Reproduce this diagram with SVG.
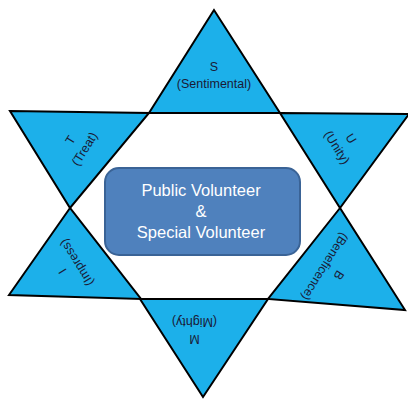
<svg xmlns="http://www.w3.org/2000/svg" width="408" height="399" viewBox="0 0 408 399">
<style>
.tri{fill:#1cb0ea;stroke:#000;stroke-width:2;stroke-linejoin:miter}
.lbl{font-family:"Liberation Sans",Arial,sans-serif;font-size:12.5px;fill:#1a1a36;text-anchor:middle;dominant-baseline:central}
.box{fill:#4f81bd;stroke:#3a6396;stroke-width:2}
.ctr{font-family:"Liberation Sans",Arial,sans-serif;font-size:16.5px;fill:#fff;text-anchor:middle;dominant-baseline:central}
</style>
<rect width="408" height="399" fill="#fff"/>
<g id="connectors"></g>
<g id="S">
<polygon class="tri" points="214,10 149,113 280,113"/>
<g transform="translate(214,75)"><text class="lbl" y="-8">S</text><text class="lbl" y="8.5">(Sentimental)</text></g>
</g>
<g id="T">
<polygon class="tri" points="10,111 149,113 70,208"/>
<g transform="translate(77.5,144.5) rotate(-58)"><text class="lbl" y="-8">T</text><text class="lbl" y="8.5">(Treat)</text></g>
</g>
<g id="U">
<polygon class="tri" points="280,113 409,114 340,208"/>
<g transform="translate(344,143) rotate(58)"><text class="lbl" y="-8">U</text><text class="lbl" y="8.5">(Unity)</text></g>
</g>
<g id="I">
<polygon class="tri" points="70,208 9,295 141,299"/>
<g transform="translate(69.5,267) rotate(-122)"><text class="lbl" y="-8">I</text><text class="lbl" y="8.5">(Impress)</text></g>
</g>
<g id="B">
<polygon class="tri" points="340,208 268,299 405,310"/>
<g transform="translate(332,271) rotate(122)"><text class="lbl" y="-8">B</text><text class="lbl" y="8.5">(Beneficence)</text></g>
</g>
<g id="M">
<polygon class="tri" points="140,299 268,299 203,397"/>
<g transform="translate(194.5,330.5) rotate(180)"><text class="lbl" y="-8">M</text><text class="lbl" y="8.5">(Mighty)</text></g>
</g>
<g id="center">
<rect class="box" x="105" y="168" width="195" height="87" rx="14"/>
<text class="ctr" x="201" y="190">Public Volunteer</text>
<text class="ctr" x="201" y="211">&amp;</text>
<text class="ctr" x="201" y="232">Special Volunteer</text>
</g>
</svg>
